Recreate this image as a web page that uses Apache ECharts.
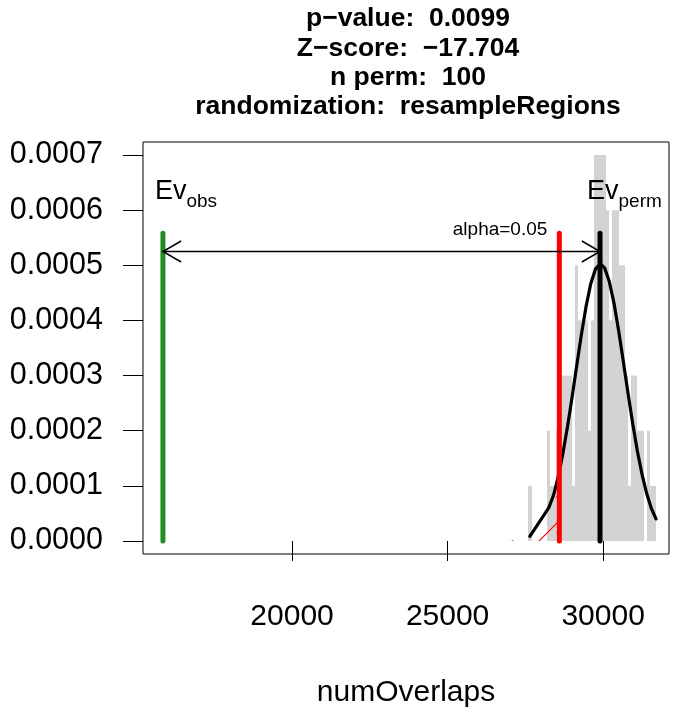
<!DOCTYPE html>
<html><head><meta charset="utf-8">
<script src="https://cdn.jsdelivr.net/npm/echarts@6/dist/echarts.min.js"></script>
<style>html,body{margin:0;padding:0;background:#fff}#c{width:676px;height:709px}</style>
</head><body><div id="c"></div>
<script>
// ---------- data ----------
const titleLines = ['p\u2212value:  0.0099', 'Z\u2212score:  \u221217.704', 'n perm:  100', 'randomization:  resampleRegions'];
const xName = 'numOverlaps';
const xRange = [15209, 32117];
const yRange = [-0.0000236, 0.0007236];
const xTicks = [20000, 25000, 30000];
const yTicks = [0, 0.0001, 0.0002, 0.0003, 0.0004, 0.0005, 0.0006, 0.0007];
const binWidth = 100;
const binStarts = [27600, 28200, 28300, 28400, 28500, 28600, 28700, 28800, 28900, 29000, 29100, 29200, 29300, 29400, 29500, 29600, 29700, 29800, 29900, 30000, 30100, 30200, 30300, 30400, 30500, 30600, 30700, 30800, 30900, 31000, 31100, 31200, 31300, 31400, 31500, 31600];
const binDensity = [0.0001, 0.0002, 0.0001, 0.0001, 0.0002, 0.0003, 0.0003, 0.0003, 0.0003, 0.0001, 0.0005, 0.0004, 0.0004, 0.0004, 0.0002, 0.0004, 0.0007, 0.0007, 0.0007, 0.0007, 0.0006, 0.0004, 0.0006, 0.0006, 0.0005, 0.0005, 0.0003, 0.0001, 0.0003, 0.0003, 0.0002, 0.0002, 0.0000, 0.0002, 0.0001, 0.0001];
const curveX = [27644, 28250, 28400, 28550, 28700, 28850, 29000, 29150, 29300, 29450, 29600, 29750, 29910, 30050, 30200, 30350, 30500, 30650, 30800, 30950, 31100, 31250, 31400, 31550, 31700];
const curveY = [0.0000085, 0.000060, 0.000082, 0.000115, 0.000157, 0.000206, 0.000260, 0.000318, 0.000374, 0.000425, 0.000466, 0.000493, 0.000503, 0.000495, 0.000470, 0.000431, 0.000381, 0.000325, 0.000268, 0.000213, 0.000163, 0.000121, 0.000086, 0.000059, 0.000040];
const tailX = [15209, 26500, 27000, 27500, 27800, 28000, 28200, 28400, 28592];
const tailY = [0, 0, 0.0000003, 0.0000049, 0.000012, 0.000022, 0.000039, 0.000065, 0.000099];
const observed = 15850;
const permMean = 29900;
const alphaThreshold = 28592;
const lineTop = 0.000558;
const arrowLevel = 0.000525;
const evLevel = 0.000633;
const alphaLevel = 0.000565;
const evSubs = ['obs', 'perm'];
const alphaText = 'alpha=0.05';

// ---------- drawing ----------
const FF = '"Liberation Sans", Arial, Helvetica, sans-serif';
const chart = echarts.init(document.getElementById('c'), null, {renderer: 'canvas'});

const measure = (txt, size, weight) => {
  const c = document.createElement('canvas').getContext('2d');
  c.font = (weight || 'normal') + ' ' + size + 'px ' + FF;
  return c.measureText(txt).width;
};

// hatch pattern (red diagonal lines)
const pat = document.createElement('canvas');
pat.width = 27; pat.height = 27;
(() => {
  const g = pat.getContext('2d');
  g.strokeStyle = '#ff0000'; g.lineWidth = 1.2;
  g.beginPath();
  g.moveTo(-2, 29); g.lineTo(29, -2);
  g.moveTo(-2, 2); g.lineTo(2, -2);
  g.moveTo(25, 29); g.lineTo(29, 25);
  g.stroke();
})();

const vline = (v, color) => ({
  type: 'line', data: [[v, 0], [v, lineTop]], symbol: 'none', silent: true,
  lineStyle: {color: color, width: 5, cap: 'round'}, z: 6, animation: false
});

const titleGraphics = titleLines.map((t, i) => ({
  type: 'text', x: 408, y: 19 + i * 29.3,
  style: {text: t, fill: '#000', fontSize: 26.5, fontWeight: 'bold', fontFamily: FF,
          align: 'center', verticalAlign: 'middle', textAlign: 'center', textVerticalAlign: 'middle'}
}));

const option = {
  animation: false,
  backgroundColor: '#fff',
  grid: {left: 143, top: 142, width: 526, height: 412, show: true, borderColor: '#000', borderWidth: 1,
         backgroundColor: 'transparent', containLabel: false, outerBoundsMode: 'none'},
  xAxis: {
    type: 'value', min: xRange[0], max: xRange[1],
    splitLine: {show: false}, axisLine: {show: false},
    axisTick: {show: true, customValues: xTicks, length: 20, lineStyle: {color: '#000', width: 1}},
    axisLabel: {customValues: xTicks, fontSize: 30, color: '#000', margin: 48, fontFamily: FF, formatter: v => String(v)},
    name: xName, nameLocation: 'middle', nameGap: 124,
    nameTextStyle: {fontSize: 30, color: '#000', fontFamily: FF}
  },
  yAxis: {
    type: 'value', min: yRange[0], max: yRange[1],
    splitLine: {show: false}, axisLine: {show: false},
    axisTick: {show: true, customValues: yTicks, length: 20, lineStyle: {color: '#000', width: 1}},
    axisLabel: {customValues: yTicks, fontSize: 30.5, color: '#000', margin: 40, fontFamily: FF, formatter: v => v.toFixed(4)}
  },
  graphic: titleGraphics,
  series: [
    { // histogram
      type: 'custom', z: 1, silent: true,
      data: binStarts.map((s, i) => [s, binDensity[i]]),
      encode: {x: 0, y: 1},
      renderItem: (params, api) => {
        const s = api.value(0), h = api.value(1);
        const p0 = api.coord([s, h]);
        const p1 = api.coord([s + binWidth, 0]);
        const x0 = Math.round(p0[0]), x1 = Math.round(p1[0]);
        return {type: 'rect', shape: {x: x0, y: p0[1], width: x1 - x0, height: p1[1] - p0[1]},
                style: {fill: '#d3d3d3'}};
      }
    },
    { // hatched tail region
      type: 'line', z: 2, silent: true, symbol: 'none',
      data: tailX.map((x, i) => [x, tailY[i]]),
      lineStyle: {width: 0, opacity: 0},
      areaStyle: {color: {image: pat, repeat: 'repeat'}, opacity: 1}
    },
    { // normal curve
      type: 'line', z: 3, silent: true, symbol: 'none',
      data: curveX.map((x, i) => [x, curveY[i]]),
      lineStyle: {color: '#000', width: 3.2, cap: 'round', join: 'round'}
    },
    vline(observed, '#228B22'),
    vline(alphaThreshold, '#ff0000'),
    vline(permMean, '#000000'),
    { // double arrow
      type: 'custom', z: 7, silent: true,
      data: [[observed, arrowLevel, permMean]],
      encode: {x: 0, y: 1},
      renderItem: (params, api) => {
        const a = api.coord([api.value(0), api.value(1)]);
        const b = api.coord([api.value(2), api.value(1)]);
        const L = 21, ang = Math.PI / 6;
        const dx = L * Math.cos(ang), dy = L * Math.sin(ang);
        const st = {stroke: '#000', lineWidth: 1.5, fill: null};
        return {type: 'group', children: [
          {type: 'line', shape: {x1: a[0], y1: a[1], x2: b[0], y2: b[1]}, style: st},
          {type: 'polyline', shape: {points: [[a[0] + dx, a[1] - dy], a, [a[0] + dx, a[1] + dy]]}, style: st},
          {type: 'polyline', shape: {points: [[b[0] - dx, b[1] - dy], b, [b[0] - dx, b[1] + dy]]}, style: st}
        ]};
      }
    },
    { // text labels
      type: 'custom', z: 8, silent: true,
      data: [[observed, evLevel, 0], [permMean, evLevel, 1], [alphaThreshold, alphaLevel, 2]],
      encode: {x: 0, y: 1},
      renderItem: (params, api) => {
        const p = api.coord([api.value(0), api.value(1)]);
        const k = api.value(2);
        if (k === 2) {
          return {type: 'text', x: p[0] - 12, y: p[1],
            style: {text: alphaText, fill: '#000', fontSize: 19, fontFamily: FF, align: 'right', verticalAlign: 'middle'}};
        }
        const left = p[0] - (k === 0 ? 8 : 13);
        const w = measure('Ev', 27);
        return {type: 'group', children: [
          {type: 'text', x: left, y: p[1], style: {text: 'Ev', fill: '#000', fontSize: 27, fontFamily: FF, align: 'left', verticalAlign: 'middle'}},
          {type: 'text', x: left + w, y: p[1] + 10, style: {text: evSubs[k], fill: '#000', fontSize: 19, fontFamily: FF, align: 'left', verticalAlign: 'middle'}}
        ]};
      }
    }
  ]
};
chart.setOption(option);
</script></body></html>
